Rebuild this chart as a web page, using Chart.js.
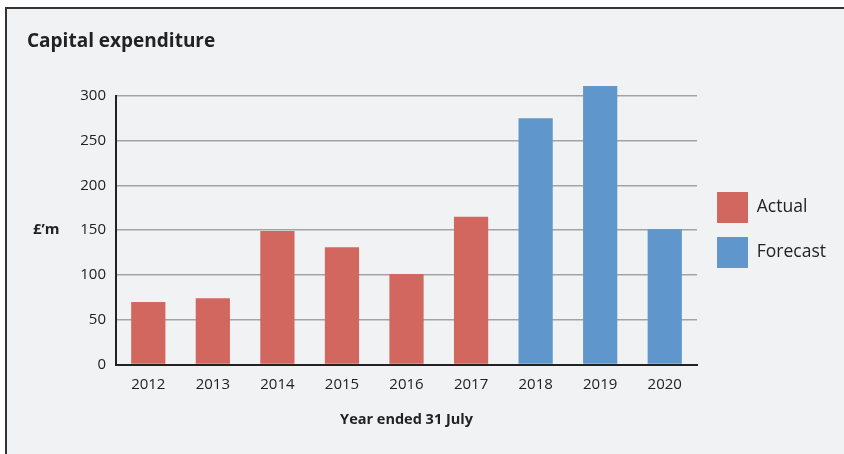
<!DOCTYPE html>
<html lang="en">
<head>
  <meta charset="UTF-8">
  <title>Capital expenditure</title>
  <script src="https://cdn.jsdelivr.net/npm/chart.js"></script>
  <style>
    html, body {
      margin: 0;
      padding: 0;
      background: #ffffff;
      overflow: hidden;
    }

    .frame {
      position: absolute;
      left: 5px;
      top: 7px;
      width: 839px;
      height: 447px;
      border-top: 2px solid #333;
      border-left: 2px solid #333;
      background: #f1f2f4;
    }

    canvas {
      display: block;
    }
  </style>
</head>
<body>

  <div class="frame">
    <canvas id="capexChart" width="837" height="445"></canvas>
  </div>

  <script>
    // data
    const years = ['2012', '2013', '2014', '2015', '2016', '2017', '2018', '2019', '2020'];
    const actual = [70, 74, 149, 131, 101, 165, null, null, null];
    const forecast = [null, null, null, null, null, null, 275, 311, 151];
    const yTicks = [0, 50, 100, 150, 200, 250, 300];

    const fontFamily = '"Open Sans", Lato, sans-serif';
    const textColor = '#222';

    // horizontal "£'m" label next to the y axis
    const unitLabel = {
      id: 'unitLabel',
      afterDraw(chart) {
        const c = chart.ctx;
        const y = chart.scales.y.getPixelForValue(150);
        c.save();
        c.font = 'bold 15px ' + fontFamily;
        c.fillStyle = textColor;
        c.textAlign = 'left';
        c.textBaseline = 'middle';
        c.fillText('£\u2019m', 26, y);
        c.restore();
      }
    };

    const ctx = document.getElementById('capexChart').getContext('2d');
    const chart = new Chart(ctx, {
      type: 'bar',
      data: {
        labels: years,
        datasets: [{
          label: 'Actual',
          data: actual,
          backgroundColor: '#d1675f',
          borderWidth: 0,
          barPercentage: 0.53,
          categoryPercentage: 1,
          clip: false
        }, {
          label: 'Forecast',
          data: forecast,
          backgroundColor: '#5f96cb',
          borderWidth: 0,
          barPercentage: 0.53,
          categoryPercentage: 1,
          clip: false
        }]
      },
      options: {
        responsive: false,
        animation: false,
        layout: {
          padding: { left: 20, right: 8, top: 0, bottom: 25 }
        },
        plugins: {
          title: {
            display: true,
            text: 'Capital expenditure',
            align: 'start',
            color: textColor,
            font: { family: fontFamily, size: 19, weight: 'bold' },
            padding: { top: 21, bottom: 43 }
          },
          legend: {
            position: 'right',
            align: 'center',
            title: {
              display: true,
              text: ' ',
              font: { size: 10 },
              padding: 5
            },
            labels: {
              boxWidth: 31,
              boxHeight: 31,
              padding: 14,
              color: textColor,
              font: { family: fontFamily, size: 17.5 }
            }
          },
          tooltip: { enabled: false }
        },
        scales: {
          x: {
            stacked: true,
            grid: { display: false, drawTicks: false },
            border: { display: true, color: '#222', width: 2 },
            ticks: {
              color: textColor,
              padding: 11,
              font: { family: fontFamily, size: 15 }
            },
            title: {
              display: true,
              text: 'Year ended 31 July',
              color: textColor,
              font: { family: fontFamily, size: 14.5, weight: 'bold' },
              padding: { top: 7, bottom: 0 }
            }
          },
          y: {
            stacked: true,
            min: 0,
            max: 300,
            afterFit(scale) { scale.width = 89; },
            afterBuildTicks(scale) {
              scale.ticks = yTicks.map(v => ({ value: v }));
            },
            grid: {
              color: '#a3a3a3',
              lineWidth: 1.5,
              drawTicks: false
            },
            border: { display: true, color: '#222', width: 2 },
            ticks: {
              color: textColor,
              padding: 10,
              font: { family: fontFamily, size: 15 }
            }
          },
          // empty spacer between the plot and the legend
          gap: {
            position: 'right',
            min: 0,
            max: 300,
            afterFit(scale) { scale.width = 6; },
            grid: { display: false, drawTicks: false },
            border: { display: false },
            ticks: { display: false }
          }
        }
      },
      plugins: [unitLabel]
    });
  </script>

</body>
</html>
